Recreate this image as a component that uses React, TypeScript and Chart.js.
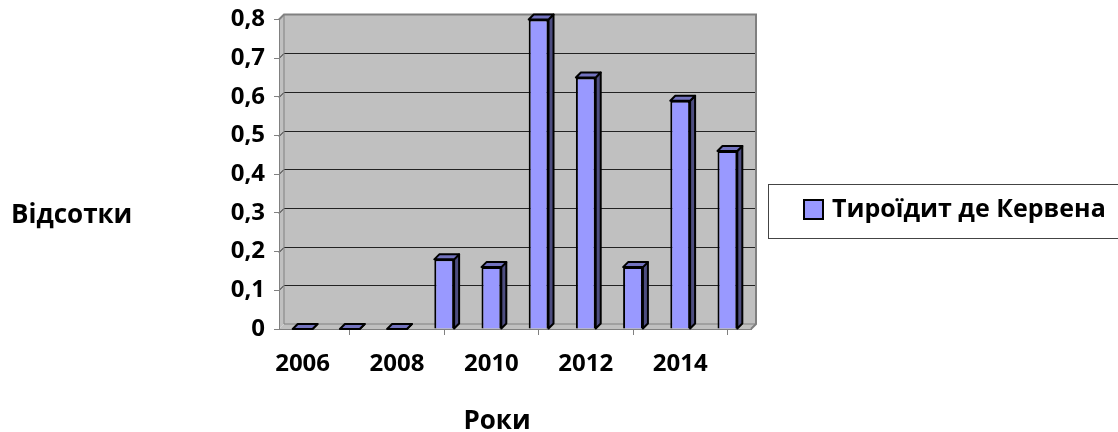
import React, { useEffect, useRef } from 'react';
import { Chart, registerables } from 'chart.js';

Chart.register(...registerables);

const years = ['2006', '2007', '2008', '2009', '2010', '2011', '2012', '2013', '2014', '2015'];
const values = [0, 0, 0, 0.18, 0.16, 0.8, 0.65, 0.16, 0.59, 0.46];
const seriesName = 'Тироїдит де Кервена';
const yTitle = 'Відсотки';
const xTitle = 'Роки';

const FONT = '"Open Sans", Lato, sans-serif';
const DEPTH = 5;

const wallPlugin = {
  id: 'wall3d',
  beforeDraw(chart: any) {
    const { ctx, chartArea } = chart;
    const y = chart.scales.y;
    const { left, right, top, bottom } = chartArea;
    const d = DEPTH;
    ctx.save();
    ctx.fillStyle = '#C0C0C0';
    ctx.fillRect(left + d, top - d, right - left, bottom - top);
    ctx.beginPath();
    ctx.moveTo(left, top);
    ctx.lineTo(left + d, top - d);
    ctx.lineTo(left + d, bottom - d);
    ctx.lineTo(left, bottom);
    ctx.closePath();
    ctx.fill();
    ctx.beginPath();
    ctx.moveTo(left, bottom);
    ctx.lineTo(left + d, bottom - d);
    ctx.lineTo(right + d, bottom - d);
    ctx.lineTo(right, bottom);
    ctx.closePath();
    ctx.fill();
    ctx.strokeStyle = '#222';
    ctx.lineWidth = 1;
    y.ticks.forEach((t: any) => {
      const py = Math.round(y.getPixelForValue(t.value) - d) + 0.5;
      if (t.value === 0 || t.value >= 0.8) return;
      ctx.beginPath();
      ctx.moveTo(left, py + d);
      ctx.lineTo(left + d, py);
      ctx.lineTo(right + d, py);
      ctx.stroke();
    });
    ctx.strokeStyle = '#808080';
    ctx.lineWidth = 2;
    ctx.beginPath();
    ctx.moveTo(left, top);
    ctx.lineTo(left + d, top - d);
    ctx.lineTo(right + d, top - d);
    ctx.lineTo(right + d, bottom - d);
    ctx.lineTo(right, bottom);
    ctx.stroke();
    ctx.lineWidth = 1;
    ctx.beginPath();
    ctx.moveTo(left + d, top - d);
    ctx.lineTo(left + d, bottom - d);
    ctx.lineTo(right + d, bottom - d);
    ctx.stroke();
    ctx.restore();
  },
  afterDatasetsDraw(chart: any) {
    const { ctx } = chart;
    const meta = chart.getDatasetMeta(0);
    const d = DEPTH;
    ctx.save();
    ctx.strokeStyle = '#000';
    ctx.lineWidth = 2;
    ctx.lineJoin = 'round';
    meta.data.forEach((bar: any) => {
      const p = bar.getProps(['x', 'y', 'base', 'width'], true);
      const l = p.x - p.width / 2;
      const r = p.x + p.width / 2;
      ctx.fillStyle = '#4D4D80';
      ctx.beginPath();
      ctx.moveTo(r, p.y);
      ctx.lineTo(r + d, p.y - d);
      ctx.lineTo(r + d, p.base - d);
      ctx.lineTo(r, p.base);
      ctx.closePath();
      ctx.fill();
      ctx.stroke();
      ctx.fillStyle = '#7373BF';
      ctx.beginPath();
      ctx.moveTo(l, p.y);
      ctx.lineTo(l + d, p.y - d);
      ctx.lineTo(r + d, p.y - d);
      ctx.lineTo(r, p.y);
      ctx.closePath();
      ctx.fill();
      ctx.stroke();
    });
    ctx.restore();
  },
  afterDraw(chart: any) {
    const { ctx } = chart;
    ctx.save();
    ctx.fillStyle = '#000';
    ctx.font = `bold 26px ${FONT}`;
    ctx.textBaseline = 'middle';
    ctx.textAlign = 'left';
    ctx.fillText(yTitle, 11, 216);
    ctx.textAlign = 'center';
    ctx.fillText(xTitle, 497, 422);
    ctx.strokeStyle = '#444';
    ctx.lineWidth = 1;
    ctx.strokeRect(768.5, 184.5, 360, 54);
    ctx.fillStyle = '#9999FF';
    ctx.fillRect(804, 200, 19, 19);
    ctx.strokeStyle = '#000';
    ctx.lineWidth = 2;
    ctx.strokeRect(804, 200, 19, 19);
    ctx.fillStyle = '#000';
    ctx.textAlign = 'left';
    ctx.font = `bold 25px ${FONT}`;
    ctx.fillText(seriesName, 832, 210);
    ctx.restore();
  },
};

export default function App() {
  const ref = useRef<HTMLCanvasElement>(null);
  useEffect(() => {
    if (!ref.current) return;
    const chart = new Chart(ref.current, {
      type: 'bar',
      data: {
        labels: years,
        datasets: [
          {
            label: seriesName,
            data: values,
            backgroundColor: '#9999FF',
            borderColor: '#000',
            borderWidth: 2,
            categoryPercentage: 1,
            barPercentage: 0.42,
          },
        ],
      },
      plugins: [wallPlugin],
      options: {
        responsive: false,
        animation: false,
        layout: { padding: { top: 19.5, right: 367, left: 0, bottom: 0 } },
        plugins: { legend: { display: false }, tooltip: { enabled: false } },
        scales: {
          x: {
            afterFit: (s: any) => { s.height = 103; s.paddingLeft = 0; s.paddingRight = 0; },
            grid: { drawOnChartArea: false, tickLength: 6, color: '#808080', offset: true },
            border: { display: true, color: '#808080', width: 1 },
            ticks: {
              autoSkip: false,
              maxRotation: 0,
              padding: 15,
              color: '#000',
              font: { family: FONT, size: 24, weight: 'bold' },
              callback: (_v: any, i: number) => (i % 2 === 0 ? years[i] : null),
            },
          },
          y: {
            min: 0,
            max: 0.8,
            afterFit: (s: any) => { s.width = 279; s.paddingTop = 0; s.paddingBottom = 0; },
            grid: { drawOnChartArea: false, tickLength: 5, color: '#808080' },
            border: { display: true, color: '#808080', width: 1 },
            ticks: {
              stepSize: 0.1,
              padding: 9,
              color: '#000',
              font: { family: FONT, size: 24, weight: 'bold' },
              callback: (v: any) => (Math.round(Number(v) * 10) / 10).toString().replace('.', ','),
            },
          },
        },
      },
    });
    return () => chart.destroy();
  }, []);
  return (
    <div style={{ position: 'absolute', left: 0, top: 0, width: 1118, height: 432 }}>
      <canvas ref={ref} width={1118} height={432} />
    </div>
  );
}
